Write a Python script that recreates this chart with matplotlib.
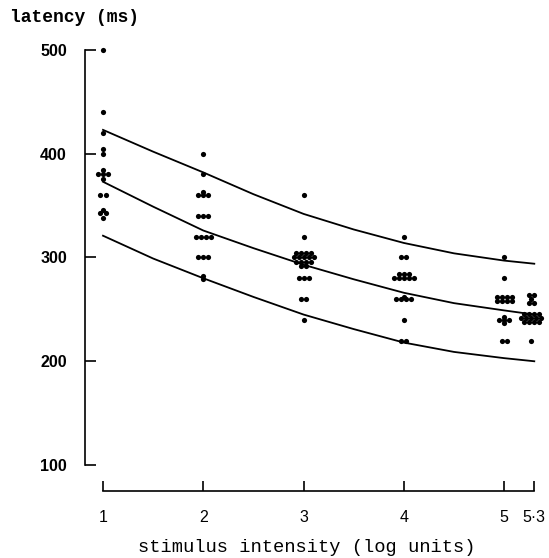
import numpy as np
import matplotlib
matplotlib.use("Agg")
import matplotlib.pyplot as plt

# latency readings (ms) at each stimulus intensity (log units)
lat_1 = [500, 440, 420, 405, 400, 384, 380, 380, 380, 376, 360, 360, 346, 343, 343, 338]
lat_2 = [400, 380, 363, 360, 360, 360, 340, 340, 340, 320, 320, 320, 320,
         300, 300, 300, 282, 279]
lat_3 = [360, 320, 304, 304, 304, 304, 300, 300, 300, 300, 300, 296, 296, 296, 296,
         292, 292, 280, 280, 280, 260, 260, 240]
lat_4 = [320, 300, 300, 284, 284, 284, 280, 280, 280, 280, 280,
         262, 260, 260, 260, 260, 240, 220, 220]
lat_5 = [300, 280, 262, 262, 262, 262, 258, 258, 258, 258,
         243, 240, 240, 240, 237, 220, 220]
lat_53 = [264, 264, 260, 256, 256, 246, 246, 246, 246, 242, 242, 242, 242, 242,
          238, 238, 238, 238, 220]
intensity = [1, 2, 3, 4, 5, 5.27]
groups = [lat_1, lat_2, lat_3, lat_4, lat_5, lat_53]

# the three fitted curves
curve_x = [1, 1.5, 2, 2.5, 3, 3.5, 4, 4.5, 5, 5.3]
curve_upper = [423, 402, 382, 361, 342, 327, 314, 304, 297, 294]
curve_mid = [373, 349, 326, 309, 293, 279, 266, 256, 249, 245]
curve_low = [321, 299, 280, 262, 245, 231, 218, 209, 203, 200]

y_ticks = [100, 200, 300, 400, 500]
x_ticks = [1, 2, 3, 4, 5, 5.3]
x_tick_labels = ["1", "2", "3", "4", "5", "5\u00b73"]

fig = plt.figure(figsize=(5.49, 5.58), dpi=100)
ax = fig.add_axes([80 / 549, 58 / 558, 465 / 549, 460 / 558])
ax.set_xlim(0.7707, 5.4068)
ax.set_ylim(66.3, 509.6)

# dots: same value -> side by side
for xc, vals in zip(intensity, groups):
    vals = np.array(vals)
    for v in np.unique(vals):
        n = np.sum(vals == v)
        offs = (np.arange(n) - (n - 1) / 2) * 0.05
        ax.scatter(xc + offs, [v] * n, s=14, color="black", linewidths=0, zorder=3)

for cy in (curve_upper, curve_mid, curve_low):
    ax.plot(curve_x, cy, color="black", lw=1.3)

for s in ("top", "right"):
    ax.spines[s].set_visible(False)
ax.spines["left"].set_position(("data", 0.82))
ax.spines["left"].set_bounds(100, 500)
ax.spines["bottom"].set_position(("data", 75))
ax.spines["bottom"].set_bounds(1, 5.3)
for s in ("left", "bottom"):
    ax.spines[s].set_linewidth(1.2)

ax.set_yticks(y_ticks)
ax.set_xticks(x_ticks)
ax.set_xticklabels(x_tick_labels)
ax.tick_params(axis="y", direction="in", length=8, width=1.2, pad=13)
ax.tick_params(axis="x", direction="in", length=7, width=1.2, pad=14)
for lab in ax.get_yticklabels():
    lab.set_fontfamily("Liberation Sans")
    lab.set_fontweight("bold")
    lab.set_fontsize(11.5)
for lab in ax.get_xticklabels():
    lab.set_fontfamily("Liberation Sans")
    lab.set_fontsize(11.5)

fig.text(10 / 549, 1 - 18 / 558, "latency (ms)", ha="left", va="center",
         family="Liberation Mono", fontweight="bold", fontsize=13)
fig.text(307 / 549, 1 - 547 / 558, "stimulus intensity (log units)", ha="center",
         va="center", family="Liberation Mono", fontsize=13.5)

fig.savefig("out.png", dpi=100)
